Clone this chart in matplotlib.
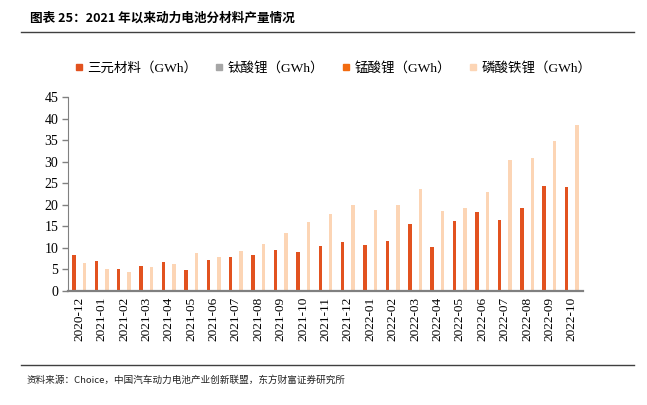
import matplotlib
matplotlib.use("Agg")
import matplotlib.pyplot as plt
import numpy as np
from matplotlib.lines import Line2D

plt.rcParams['font.family'] = ['Noto Sans CJK SC', 'DejaVu Sans']

categories = ["2020-12", "2021-01", "2021-02", "2021-03", "2021-04", "2021-05", "2021-06",
              "2021-07", "2021-08", "2021-09", "2021-10", "2021-11", "2021-12", "2022-01",
              "2022-02", "2022-03", "2022-04", "2022-05", "2022-06", "2022-07", "2022-08",
              "2022-09", "2022-10"]
ncm = [8.4, 6.9, 5.0, 5.7, 6.65, 4.95, 7.3, 8.0, 8.3, 9.6, 9.1, 10.4, 11.4, 10.75,
       11.6, 15.5, 10.3, 16.2, 18.25, 16.55, 19.2, 24.3, 24.2]
lto = [0.05] * 23
lmo = [0.3, 0.3, 0.25, 0.3, 0.3, 0.3, 0.3, 0.3, 0.3, 0.3, 0.3, 0.3, 0.3, 0.3,
       0.3, 0.3, 0.3, 0.3, 0.3, 0.3, 0.3, 0.3, 0.3]
lfp = [6.5, 5.1, 4.3, 5.5, 6.2, 8.7, 7.8, 9.3, 11.0, 13.5, 15.9, 17.8, 20.0, 18.7,
       20.0, 23.6, 18.6, 19.2, 22.9, 30.5, 30.8, 34.8, 38.6]
series_names = ["三元材料（GWh）", "钛酸锂（GWh）", "锰酸锂（GWh）", "磷酸铁锂（GWh）"]
colors = ["#E2521F", "#A6A6A6", "#F26B10", "#FCD5B5"]
yticks = [0, 5, 10, 15, 20, 25, 30, 35, 40, 45]

fig = plt.figure(figsize=(6.47, 4.05), dpi=100)
ax = fig.add_axes([68/647, 1-291/405, (583-68)/647, (291-97)/405])

x = np.arange(len(categories))
w = 0.156
for i, (vals, c) in enumerate(zip([ncm, lto, lmo, lfp], colors)):
    ax.bar(x + (i - 1.5) * w, vals, width=w, color=c, zorder=2)

ax.set_xlim(-0.5, len(categories) - 0.5)
ax.set_ylim(0, 45)
ax.set_yticks(yticks)
ax.set_xticks(x)
ax.set_xticklabels(categories, rotation=90)
ax.tick_params(axis='x', length=0, pad=4, labelsize=9.5, labelfontfamily='Liberation Serif')
ax.tick_params(axis='y', length=4, width=1, color='#808080', direction='out', pad=3,
               labelsize=10, labelfontfamily='Liberation Serif')
for s in ['top', 'right']:
    ax.spines[s].set_visible(False)
ax.spines['left'].set_color('#808080')
ax.spines['bottom'].set_color('#808080')
ax.spines['bottom'].set_linewidth(1.6)
ax.spines['bottom'].set_zorder(3)

handles = [Line2D([], [], marker='s', linestyle='none', markersize=5,
                  markerfacecolor=c, markeredgecolor=c) for c in colors]
fig.legend(handles, series_names, loc='center', bbox_to_anchor=(331/647, 1-68/405),
           ncol=4, frameon=False, handletextpad=0.05, columnspacing=1.0,
           handlelength=1.2, borderaxespad=0,
           prop={'family': ['Liberation Serif', 'Noto Sans CJK SC'], 'size': 9.7})

fig.text(30/647, 1-18/405, "图表 25：2021 年以来动力电池分材料产量情况", fontsize=9.1,
         fontweight='bold', va='center', ha='left')
fig.add_artist(Line2D([21/647, 634/647], [1-32/405, 1-32/405], color='#404040', lw=1.0))
fig.add_artist(Line2D([21/647, 634/647], [1-365/405, 1-365/405], color='#404040', lw=1.0))
fig.text(27/647, 1-380/405, "资料来源：Choice，中国汽车动力电池产业创新联盟，东方财富证券研究所",
         fontsize=6.9, va='center', ha='left', color='#222222')

fig.savefig("out.png", dpi=100)
